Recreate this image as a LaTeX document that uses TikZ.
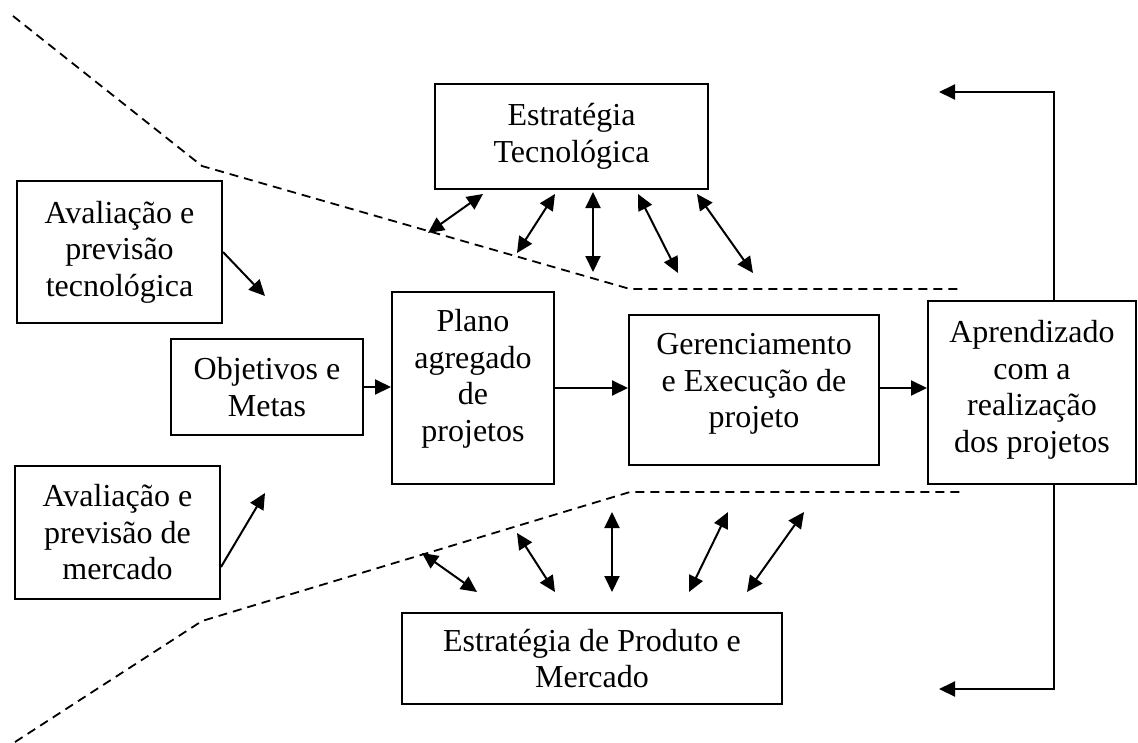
\documentclass[tikz,border=0pt]{standalone}
\usepackage{fontspec}
\setmainfont{Liberation Serif}
\usetikzlibrary{arrows.meta}

\begin{document}
\begin{tikzpicture}[x=1pt,y=-1pt,
  box/.style={draw, line width=2pt, align=center, inner sep=0pt,
    font=\fontsize{32}{36.5}\selectfont},
  arr/.style={line width=2pt, -{Triangle[length=16pt,width=15pt]}},
  darr/.style={line width=2pt, {Triangle[length=16pt,width=15pt]}-{Triangle[length=16pt,width=15pt]}},
  border/.style={line width=1.8pt, dash pattern=on 9pt off 6pt}]

\useasboundingbox (0,0) rectangle (1138,742);

% boxes
\node[box, minimum width=273pt, minimum height=105pt] (tec) at (571.5,136.5) {Estratégia\\Tecnológica};
\node[box, minimum width=205pt, minimum height=142pt] (avt) at (119.5,252) {Avaliação e\\previsão\\tecnológica};
\node[box, minimum width=192pt, minimum height=96pt] (obj) at (267,387) {Objetivos e\\Metas};
\node[box, minimum width=205pt, minimum height=133pt] (avm) at (117.5,532.5) {Avaliação e\\previsão de\\mercado};
\node[box, minimum width=162pt, minimum height=192pt, text depth=25pt] (plano) at (473,388) {Plano\\agregado\\de\\projetos};
\node[box, minimum width=250pt, minimum height=150pt, text depth=19pt] (ger) at (754,390) {Gerenciamento\\e Execução de\\projeto};
\node[box, minimum width=208pt, minimum height=183pt, text depth=12pt] (apr) at (1032,392.5) {Aprendizado\\com a\\realização\\dos projetos};
\node[box, minimum width=380pt, minimum height=91pt] (prod) at (592,658.5) {Estratégia de Produto e\\Mercado};

% main flow
\draw[arr] (obj.east) -- (plano.west |- obj.east);
\draw[arr] (plano.east |- 0,388) -- (ger.west |- 0,388);
\draw[arr] (ger.east |- 0,388) -- (apr.west |- 0,388);

% feedback loops
\coordinate (fbtop) at (939,92);
\coordinate (fbbot) at (939,689);
\draw[arr] (apr.north -| 1054,0) |- (fbtop);
\draw[arr] (apr.south -| 1054,0) |- (fbbot);

% assessment arrows
\coordinate (avtend) at (265,296);
\coordinate (avmend) at (265,493);
\draw[arr] (avt.east |- 0,252) -- (avtend);
\draw[arr] (avm.east |- 0,567) -- (avmend);

% dashed funnel
\coordinate (t0) at (13,16);
\coordinate (t1) at (202,166);
\coordinate (t2) at (630,289);
\coordinate (t3) at (960,289);
\coordinate (b0) at (15,742);
\coordinate (b1) at (202,621);
\coordinate (b2) at (630,492);
\coordinate (b3) at (960,492);
\draw[border] (t0) -- (t1) -- (t2) -- (t3);
\draw[border] (b0) -- (b1) -- (b2) -- (b3);

% interactions with technology strategy
\coordinate (ta1) at (483,194); \coordinate (tb1) at (428,233);
\coordinate (ta2) at (555,194); \coordinate (tb2) at (517,253);
\coordinate (ta3) at (593,192); \coordinate (tb3) at (593,272);
\coordinate (ta4) at (638,194); \coordinate (tb4) at (678,273);
\coordinate (ta5) at (697,194); \coordinate (tb5) at (753,273);
\foreach \i in {1,...,5} \draw[darr] (ta\i) -- (tb\i);

% interactions with product and market strategy
\coordinate (pa1) at (422,553); \coordinate (pb1) at (477,592);
\coordinate (pa2) at (517,533); \coordinate (pb2) at (555,592);
\coordinate (pa3) at (612,512); \coordinate (pb3) at (612,592);
\coordinate (pa4) at (728,512); \coordinate (pb4) at (689,592);
\coordinate (pa5) at (804,512); \coordinate (pb5) at (747,592);
\foreach \i in {1,...,5} \draw[darr] (pa\i) -- (pb\i);

\end{tikzpicture}
\end{document}
